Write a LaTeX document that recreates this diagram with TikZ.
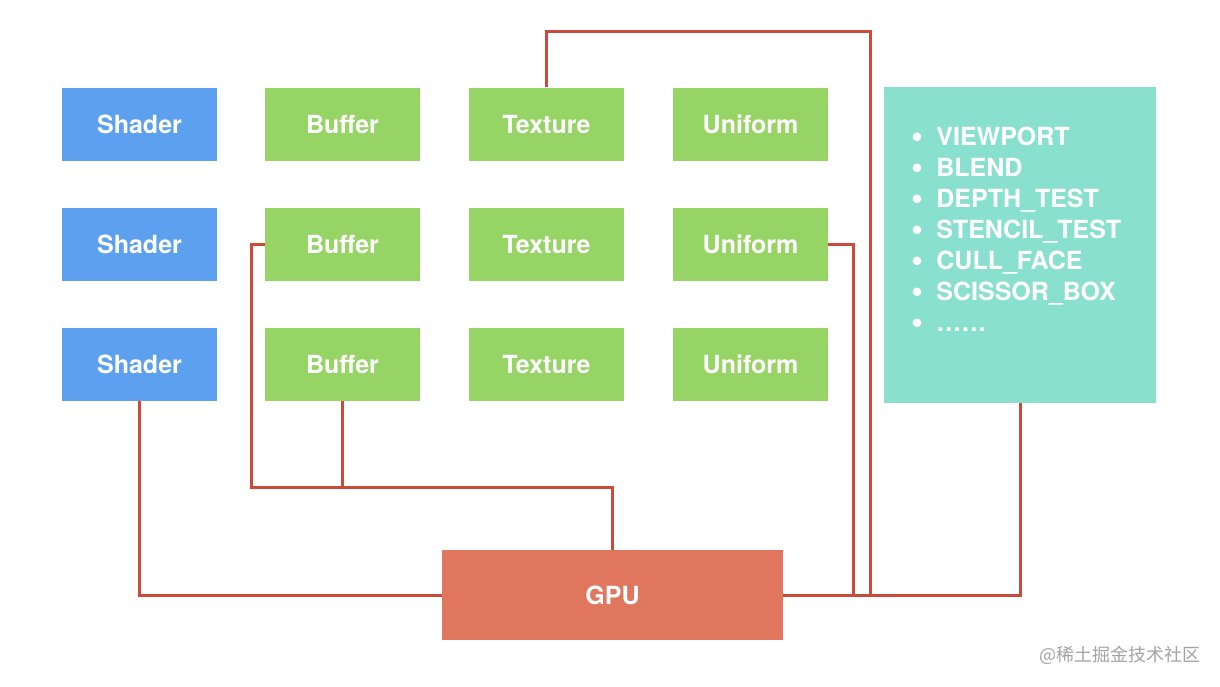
\documentclass[tikz,border=0pt]{standalone}
\usepackage{fontspec}
\setmainfont{TeX Gyre Heros}
\newfontfamily\cjk{Noto Sans CJK SC}
\usepackage{tikz}
\definecolor{shaderColor}{HTML}{5DA0F0}
\definecolor{dataColor}{HTML}{96D466}
\definecolor{stateColor}{HTML}{8AE0CF}
\definecolor{gpuColor}{HTML}{E0765E}
\definecolor{wireColor}{HTML}{CB4A3A}
\definecolor{markColor}{HTML}{A3A3A3}
\newcommand{\stateItem}{\makebox[12.5pt][l]{\raisebox{-1.2pt}{\fontsize{17}{15}\selectfont\textbullet}}}

\begin{document}
\begin{tikzpicture}[x=0.5pt,y=-0.5pt]

          \tikzstyle{box} = [inner sep=0, text=white, font=\bfseries\fontsize{12.5}{15.5}\selectfont];
          \tikzstyle{shaderNode} = [box, fill=shaderColor, minimum width=77.5pt, minimum height=36.5pt];
          \tikzstyle{dataNode} = [box, fill=dataColor, minimum width=77.5pt, minimum height=36.5pt];
          \tikzstyle{stateNode} = [box, fill=stateColor, minimum width=136pt, minimum height=158pt];
          \tikzstyle{gpuNode} = [box, fill=gpuColor, minimum width=170.5pt, minimum height=45pt];

          \tikzstyle{wire} = [line width=1.5pt, wireColor];

          \useasboundingbox (0,0) rectangle (1220,686);

          \node[shaderNode] (sh1) at (139.5,124) {Shader};
          \node[shaderNode] (sh2) at (139.5,244) {Shader};
          \node[shaderNode] (sh3) at (139.5,364.5) {Shader};
          \node[dataNode] (buf1) at (342.5,124) {Buffer};
          \node[dataNode] (buf2) at (342.5,244) {Buffer};
          \node[dataNode] (buf3) at (342.5,364.5) {Buffer};
          \node[dataNode] (tex1) at (546.5,124) {Texture};
          \node[dataNode] (tex2) at (546.5,244) {Texture};
          \node[dataNode] (tex3) at (546.5,364.5) {Texture};
          \node[dataNode] (uni1) at (750.5,124) {Uniform};
          \node[dataNode] (uni2) at (750.5,244) {Uniform};
          \node[dataNode] (uni3) at (750.5,364.5) {Uniform};
          \node[stateNode] (state) at (1020,245) {};
          \node[box, anchor=west, align=left] (stateList) at (911,230.5)
            {\stateItem VIEWPORT\\
             \stateItem BLEND\\
             \stateItem DEPTH\_TEST\\
             \stateItem STENCIL\_TEST\\
             \stateItem CULL\_FACE\\
             \stateItem SCISSOR\_BOX\\
             \stateItem ……};
          \node[gpuNode] (gpu) at (612.5,595) {GPU};
          \node[text=markColor, font=\cjk\fontsize{9}{11}\selectfont, inner sep=0] (mark) at (1120,655) {@稀土掘金技术社区};

          \coordinate (texTop) at (870,31);
          \coordinate (uniBend) at (853,244);
          \coordinate (busLeft) at (251,487);

          \draw[wire] (sh3.south) |- (gpu.west);
          \draw[wire] (state.south) |- (gpu.east);
          \draw[wire] (tex1.north) |- (texTop) |- (gpu.east);
          \draw[wire] (uni2.east) -- (uniBend) |- (gpu.east);
          \draw[wire] (buf2.west) -| (busLeft) -| (gpu.north);
          \draw[wire] (buf3.south) -- (buf3.south |- busLeft);
        \end{tikzpicture}
\end{document}
